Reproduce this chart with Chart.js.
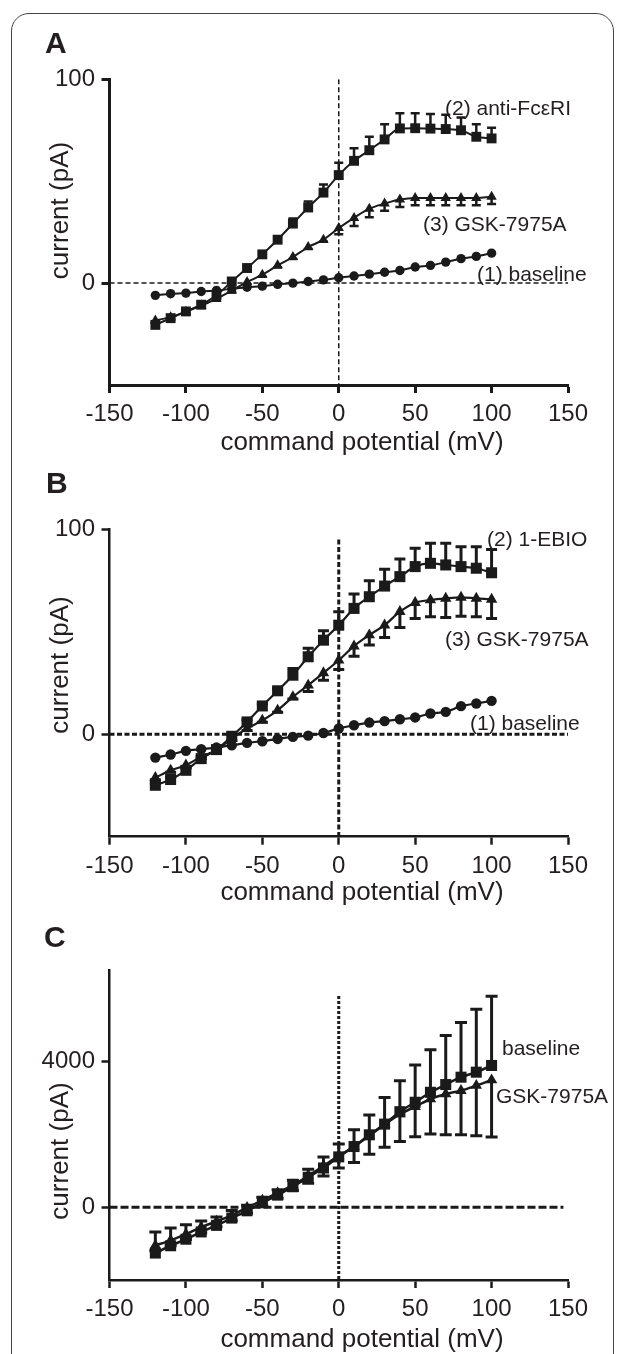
<!DOCTYPE html>
<html><head><meta charset="utf-8">
<script src="https://cdn.jsdelivr.net/npm/chart.js@4.4.1/dist/chart.umd.min.js"></script>
<style>
html,body{margin:0;padding:0;background:#fff;}
body{width:625px;height:1354px;position:relative;overflow:hidden;}
.frame{position:absolute;left:11px;top:13px;width:603px;height:1420px;border:1.5px solid #444;border-radius:18px;box-sizing:border-box;}
canvas{position:absolute;left:0;}
</style></head><body>
<div class="frame"></div>
<canvas id="cA" width="625" height="460" style="top:0px"></canvas>
<canvas id="cB" width="625" height="450" style="top:460px"></canvas>
<canvas id="cC" width="625" height="444" style="top:910px"></canvas>
<script>
// ---------- data ----------
const potentials = [-120,-110,-100,-90,-80,-70,-60,-50,-40,-30,-20,-10,0,10,20,30,40,50,60,70,80,90,100];
const xTicks = [-150,-100,-50,0,50,100,150];
const xTitle = "command potential (mV)";
const yTitle = "current (pA)";

// Panel A
const aBaseline = [-6.0,-5.2,-4.9,-4.1,-3.6,-2.8,-2.0,-1.5,-0.6,0.0,0.8,1.6,2.6,3.5,4.4,5.3,6.2,7.9,8.7,10.3,12.0,13.1,14.7];
const aAntiFc   = [-20.5,-17.2,-13.9,-10.6,-6.0,0.8,7.4,14.1,21.3,29.2,37.1,44.4,53.0,60.0,65.2,70.5,75.9,76.0,75.8,75.6,75.0,71.8,71.0];
const aAntiFcErr= [1,1,1,1,1,1,1,1,1,2.5,3,4,6,6.2,6.6,7.4,7.4,7.3,7.2,7,6.3,6.1,5.2];
const aGsk      = [-18.3,-16.7,-14.0,-11.0,-7.7,-3.6,0.5,4.1,8.7,12.8,17.7,21.3,27.0,32.0,36.5,39.0,41.0,41.8,41.8,41.8,41.8,41.8,42.4];
const aGskErr   = [1,1,1,1,1,1,1,1,1,1,1,1,3,4,4.2,3.5,3.6,3.6,3.6,3.6,3.6,3.6,3.6];
const aYTicks = [0,100];
const aLabels = ["(2) anti-FcεRI","(3) GSK-7975A","(1) baseline"];

// Panel B
const bBaseline = [-11.4,-9.9,-8.1,-7.3,-6.5,-5.4,-4.2,-3.4,-2.3,-1.3,-0.7,0.6,2.8,4.4,5.7,6.4,7.3,8.2,10.1,10.9,13.7,15.0,16.3];
const bEbio     = [-24.9,-22.1,-17.6,-11.9,-7.5,-1.0,6.0,13.8,21.2,28.8,37.8,45.9,53.2,61.4,67.1,72.3,76.9,81.8,83.4,82.6,81.8,81.0,78.8];
const bEbioErr  = [1,1,1,1,1,1,1,1,1,3.3,4.1,4.6,6.6,7,7.8,8.2,8.6,8.9,9.8,10.6,9.7,10.5,11.4];
const bGsk      = [-21.2,-17.6,-15.1,-11.0,-7.8,-2.1,2.8,6.8,11.7,18.2,23.9,29.9,36.1,43.0,48.4,53.2,59.8,64.2,65.5,66.3,66.8,66.3,65.8];
const bGskErr   = [1,1,1,1,1,1,1,1,1,1,3,3.5,4.5,4.9,4.9,6,7.7,7.7,8.2,9.3,9.2,9,9.3];
const bYTicks = [0,100];
const bLabels = ["(2) 1-EBIO","(3) GSK-7975A","(1) baseline"];

// Panel C
const cBaseline    = [-1260,-1060,-880,-680,-500,-300,-100,120,330,560,820,1075,1380,1664,1986,2280,2621,2880,3154,3366,3568,3706,3890];
const cBaselineErr = [580,490,400,300,230,210,150,150,150,180,220,300,355,460,545,730,850,1020,1170,1350,1500,1730,1900];
const cGsk         = [-1050,-910,-740,-550,-390,-225,-10,184,395,607,855,1131,1407,1664,1959,2270,2556,2759,2970,3108,3200,3338,3490];
const cGskErr      = [150,150,150,150,150,150,150,150,150,150,200,276,335,441,506,625,754,828,965,1122,1214,1379,1563];
const cYTicks = [0,4000];
const cLabels = ["baseline","GSK-7975A"];

// ---------- drawing ----------
const INK = '#1a1a1a', TEXT = '#231f20';
const FONT = '"Liberation Sans", Arial, Helvetica, sans-serif';
const pts = ys => potentials.map((x,i) => ({x, y: ys[i]}));

const decor = {
  id: 'decor',
  beforeDatasetsDraw(chart, args, opts) {
    const {ctx} = chart; const xs = chart.scales.x, ys = chart.scales.y;
    ctx.save(); ctx.strokeStyle = INK; ctx.lineWidth = opts.errW; ctx.lineCap = 'butt';
    chart.data.datasets.forEach(ds => {
      [['errUp',1],['errDown',-1]].forEach(([k,sign]) => {
        const e = ds[k]; if (!e) return;
        ds.data.forEach((p,i) => {
          if (!e[i]) return;
          const px = xs.getPixelForValue(p.x), py0 = ys.getPixelForValue(p.y), py1 = ys.getPixelForValue(p.y + sign*e[i]);
          ctx.beginPath(); ctx.moveTo(px, py0); ctx.lineTo(px, py1);
          ctx.moveTo(px - opts.cap, py1); ctx.lineTo(px + opts.cap, py1); ctx.stroke();
        });
      });
    });
    ctx.restore();
  },
  afterDraw(chart, args, opts) {
    const {ctx} = chart;
    ctx.save(); ctx.fillStyle = TEXT; ctx.textBaseline = 'alphabetic';
    opts.texts.forEach(t => {
      ctx.font = t.font; ctx.textAlign = t.align || 'left';
      if (t.rot) { ctx.save(); ctx.translate(t.x, t.y); ctx.rotate(-Math.PI/2); ctx.fillText(t.text, 0, 0); ctx.restore(); }
      else ctx.fillText(t.text, t.x, t.y);
    });
    ctx.restore();
  }
};

function panel(id, o) {
  const datasets = o.series.map(s => ({
    data: pts(s.values), errUp: s.errUp, errDown: s.errDown,
    borderColor: INK, backgroundColor: INK, borderWidth: o.lineW,
    pointStyle: s.style, pointRadius: s.r, pointBorderWidth: 0, pointBackgroundColor: INK,
    cubicInterpolationMode: 'monotone', fill: false, clip: false
  }));
  datasets.push({data: [{x:o.hLine[0],y:0},{x:o.hLine[1],y:0}], borderColor: INK, borderWidth: o.guideW, borderDash: o.hDash, pointRadius: 0, fill: false});
  datasets.push({data: [{x:0,y:o.vLine[0]},{x:0,y:o.vLine[1]}], borderColor: INK, borderWidth: o.guideW, borderDash: o.vDash, pointRadius: 0, fill: false});
  const axisCommon = {
    grid: {display: true, drawOnChartArea: false, drawTicks: true, tickLength: 8, tickWidth: o.axisW, tickColor: INK},
    border: {display: true, width: o.axisW, color: INK}
  };
  new Chart(document.getElementById(id), {
    type: 'line',
    data: {datasets},
    options: {
      responsive: false, animation: false, events: [],
      layout: {padding: {top: o.top, right: 57, bottom: o.bottom, left: 0}},
      plugins: {legend: {display: false}, tooltip: {enabled: false},
        decor: {texts: o.texts, errW: o.errW, cap: o.cap}},
      scales: {
        x: Object.assign({type: 'linear', min: -150, max: 150,
          afterBuildTicks: sc => { sc.ticks = xTicks.map(v => ({value: v})); },
          afterFit: sc => { sc.height = 50; },
          ticks: {font: {family: FONT, size: 24}, color: TEXT, padding: 7, maxRotation: 0, autoSkip: false, callback: v => String(v)}
        }, axisCommon),
        y: Object.assign({type: 'linear', min: o.ymin, max: o.ymax,
          afterBuildTicks: sc => { sc.ticks = o.yTicks.map(v => ({value: v})); },
          afterFit: sc => { sc.width = 109.5; },
          ticks: {font: {family: FONT, size: 24}, color: TEXT, padding: 6.5, autoSkip: false, callback: v => String(v)}
        }, axisCommon)
      }
    },
    plugins: [decor]
  });
}

const LBL = '21px ' + FONT, TTL = '26px ' + FONT, LET = 'bold 30px ' + FONT;

panel('cA', {
  ymin: -50, ymax: 100, yTicks: aYTicks, top: 79.3, bottom: 25,
  lineW: 2, axisW: 3, guideW: 1.5, hDash: [5,3], vDash: [5,3], errW: 2.5, cap: 4.5,
  hLine: [-150,150], vLine: [100,-50],
  series: [
    {values: aAntiFc, errUp: aAntiFcErr, style: 'rect', r: 7},
    {values: aGsk, errDown: aGskErr, style: 'triangle', r: 6},
    {values: aBaseline, style: 'circle', r: 4.7}
  ],
  texts: [
    {text: 'A', x: 45, y: 53, font: LET},
    {text: aLabels[0], x: 445, y: 115, font: LBL},
    {text: aLabels[1], x: 423, y: 231, font: LBL},
    {text: aLabels[2], x: 477, y: 281, font: LBL},
    {text: yTitle, x: 68, y: 210.5, font: TTL, align: 'center', rot: true},
    {text: xTitle, x: 362, y: 450, font: TTL, align: 'center'}
  ]
});

panel('cB', {
  ymin: -50, ymax: 100, yTicks: bYTicks, top: 69.3, bottom: 23.3,
  lineW: 2.2, axisW: 2.5, guideW: 3, hDash: [5,2.5], vDash: [5,2.5], errW: 3, cap: 5.5,
  hLine: [-150,150], vLine: [95,-50],
  series: [
    {values: bEbio, errUp: bEbioErr, style: 'rect', r: 7.8},
    {values: bGsk, errDown: bGskErr, style: 'triangle', r: 6.6},
    {values: bBaseline, style: 'circle', r: 5.2}
  ],
  texts: [
    {text: 'B', x: 46, y: 33, font: LET},
    {text: bLabels[0], x: 487, y: 86, font: LBL},
    {text: bLabels[1], x: 445, y: 186, font: LBL},
    {text: bLabels[2], x: 470, y: 270, font: LBL},
    {text: yTitle, x: 68, y: 205, font: TTL, align: 'center', rot: true},
    {text: xTitle, x: 362, y: 440, font: TTL, align: 'center'}
  ]
});

panel('cC', {
  ymin: -2000, ymax: 6500, yTicks: cYTicks, top: 60.4, bottom: 24,
  lineW: 2.5, axisW: 2.5, guideW: 3, hDash: [8,3], vDash: [3,2], errW: 3, cap: 6,
  hLine: [-150,147], vLine: [5800,-2000],
  series: [
    {values: cBaseline, errUp: cBaselineErr, style: 'rect', r: 7.8},
    {values: cGsk, errDown: cGskErr, style: 'triangle', r: 6.6}
  ],
  texts: [
    {text: 'C', x: 44, y: 37, font: LET},
    {text: cLabels[0], x: 502, y: 145, font: LBL},
    {text: cLabels[1], x: 496, y: 193, font: LBL},
    {text: yTitle, x: 68, y: 241, font: TTL, align: 'center', rot: true},
    {text: xTitle, x: 362, y: 436.5, font: TTL, align: 'center'}
  ]
});
</script>
</body></html>
